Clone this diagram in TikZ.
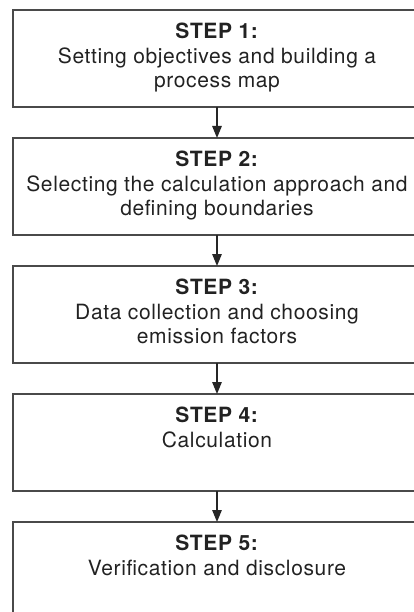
\documentclass[tikz,border=0pt]{standalone}
\usepackage{fontspec}
\setmainfont{TeX Gyre Heros}
\newfontfamily\stepfont[LetterSpace=3.0]{TeX Gyre Heros}
\usetikzlibrary{positioning,arrows.meta}
\definecolor{linegray}{HTML}{4A4A4A}
\definecolor{textgray}{HTML}{222222}
\tikzset{
    stepbox/.style={draw=linegray, line width=1.8pt, minimum width=408pt, minimum height=97pt, inner sep=0pt, outer sep=0pt},
    steptext/.style={align=center, text=textgray, font=\stepfont\fontsize{21pt}{24.5pt}\selectfont, inner sep=0pt},
    flowarrow/.style={draw=black!85, line width=1.3pt, -{Triangle[width=9.5pt,length=12pt]}}
}
\begin{document}
\begin{tikzpicture}[x=1pt,y=1pt]
        % Fix the frame to the size of the page
        \useasboundingbox (0,0) rectangle (414,-612);
        \clip (0,0) rectangle (414,-612);
        % Draw the five step boxes
        \node[stepbox] (s1) at (217,-58.5) {};
        \node[stepbox, below=31pt of s1] (s2) {};
        \node[stepbox, below=31pt of s2] (s3) {};
        \node[stepbox, below=31pt of s3] (s4) {};
        \node[stepbox, below=31pt of s4] (s5) {};
        % Put the text at the top of each box
        \node[steptext, below=13pt of s1.north] (t1) {\textbf{STEP 1:}\\Setting objectives and building a\\process map};
        \node[steptext, below=13pt of s2.north] (t2) {\textbf{STEP 2:}\\Selecting the calculation approach and\\defining boundaries};
        \node[steptext, below=13pt of s3.north] (t3) {\textbf{STEP 3:}\\Data collection and choosing\\emission factors};
        \node[steptext, below=13pt of s4.north] (t4) {\textbf{STEP 4:}\\Calculation};
        \node[steptext, below=13pt of s5.north] (t5) {\textbf{STEP 5:}\\Verification and disclosure};
        % Arrows from each box to the next
        \foreach \a/\b in {s1/s2,s2/s3,s3/s4,s4/s5}
            \draw[flowarrow] (\a) -- (\b);
\end{tikzpicture}
\end{document}
